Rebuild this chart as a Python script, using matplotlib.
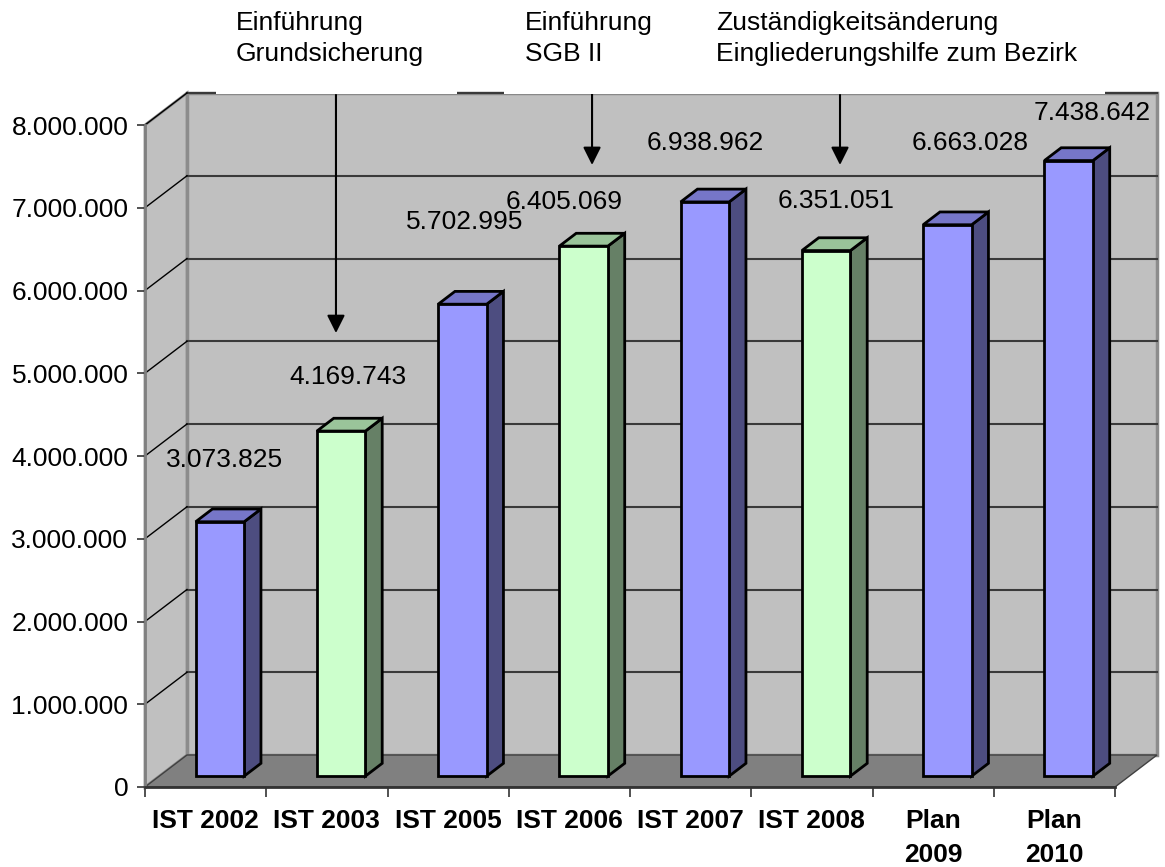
import matplotlib.pyplot as plt
from matplotlib.patches import Polygon, Rectangle
from matplotlib.ticker import FuncFormatter

plt.rcParams['font.family'] = ['Liberation Sans', 'DejaVu Sans']

# data
categories = ['IST 2002', 'IST 2003', 'IST 2005', 'IST 2006', 'IST 2007', 'IST 2008', 'Plan\n2009', 'Plan\n2010']
values = [3073825, 4169743, 5702995, 6405069, 6938962, 6351051, 6663028, 7438642]
kinds = ['blue', 'green', 'blue', 'green', 'blue', 'green', 'blue', 'blue']
yticks = [0, 1000000, 2000000, 3000000, 4000000, 5000000, 6000000, 7000000, 8000000]

# layout
label_off = [(5, 62), (7, 54), (2, 82), (-20, 44), (0, 59), (10, 50), (23, 82), (24, 48)]
notes = ['Einführung\nGrundsicherung', 'Einführung\nSGB II',
         'Zuständigkeitsänderung\nEingliederungshilfe zum Bezirk']
note_x = [236, 525, 716]
arrow_x = [1.575, 3.687, 5.732]
arrow_from = [8.363e6, 8.665e6, 8.363e6]
arrow_to = [5.486e6, 7.517e6, 7.517e6]

colors = {'blue': ('#9999FF', '#4D4D80', '#7676C8'),
          'green': ('#CCFFCC', '#668066', '#9AC49A')}

W, H = 1165, 867
fig = plt.figure(figsize=(W / 100, H / 100), dpi=100)
ax = fig.add_axes([145 / W, 80 / H, 970 / W, 662 / H])
n = len(categories)
ymax = 8000000
ax.set_xlim(0, n)
ax.set_ylim(0, ymax)
ax.set_facecolor('none')

# depth of the 3d box in data units
dx = 42 * n / 970
dy = 32 * ymax / 662

kw = dict(clip_on=False)
# back wall
ax.add_patch(Polygon([(dx, dy), (n + dx, dy), (n + dx, ymax + dy), (dx, ymax + dy)],
                     closed=True, facecolor='#C0C0C0', edgecolor='#8C8C8C', lw=2.5, zorder=1, **kw))
# side wall
ax.add_patch(Polygon([(0, 0), (dx, dy), (dx, ymax + dy), (0, ymax)],
                     closed=True, facecolor='#C0C0C0', edgecolor='#8C8C8C', lw=2, zorder=1, **kw))
for t in yticks[1:]:
    ax.plot([dx, n + dx], [t + dy, t + dy], color='#3A3A3A', lw=1.5, zorder=2, **kw)
    ax.plot([0, dx], [t, t + dy], color='black', lw=1, zorder=2, **kw)
# floor
ax.add_patch(Polygon([(0, 0), (n, 0), (n + dx, dy), (dx, dy)],
                     closed=True, facecolor='#808080', edgecolor='#404040', lw=1, zorder=2, **kw))

# bars
f0, f1 = 0.34, 0.74
for i, (v, k) in enumerate(zip(values, kinds)):
    front, side, top = colors[k]
    xl = i + 0.3
    xr = i + 0.7
    ax.add_patch(Polygon([(xr + f0 * dx, f0 * dy), (xr + f1 * dx, f1 * dy),
                          (xr + f1 * dx, v + f1 * dy), (xr + f0 * dx, v + f0 * dy)],
                         closed=True, facecolor=side, edgecolor='black', lw=2, zorder=3, **kw))
    ax.add_patch(Polygon([(xl + f0 * dx, v + f0 * dy), (xr + f0 * dx, v + f0 * dy),
                          (xr + f1 * dx, v + f1 * dy), (xl + f1 * dx, v + f1 * dy)],
                         closed=True, facecolor=top, edgecolor='black', lw=2, zorder=3, **kw))
    ax.add_patch(Rectangle((xl + f0 * dx, f0 * dy), xr - xl, v, facecolor=front,
                           edgecolor='black', lw=2, zorder=4, **kw))
    lx, ly = label_off[i]
    ax.annotate(f'{v:,}'.replace(',', '.'), xy=(i + 0.5 + f0 * dx, v + f0 * dy),
                xytext=(lx, ly), textcoords='offset pixels', ha='center', va='center',
                fontsize=19, zorder=6, annotation_clip=False)

# axes
for s in ['top', 'right']:
    ax.spines[s].set_visible(False)
ax.spines['left'].set_color('#808080')
ax.spines['left'].set_linewidth(2)
ax.spines['bottom'].set_color('#333333')
ax.spines['bottom'].set_linewidth(2)
ax.spines['left'].set_zorder(5)
ax.spines['bottom'].set_zorder(5)
ax.set_yticks(yticks)
ax.yaxis.set_major_formatter(FuncFormatter(lambda v, p: f'{int(v):,}'.replace(',', '.')))
ax.set_xticks(range(n + 1))
ax.set_xticklabels([])
ax.set_xticks([i + 0.5 for i in range(n)], minor=True)
ax.set_xticklabels(categories, minor=True, fontweight='bold', fontsize=19, linespacing=1.5)
ax.tick_params(axis='y', labelsize=19, length=6, width=1.2, color='#333333', pad=6)
ax.tick_params(axis='x', which='major', length=7, width=1.2, color='#333333')
ax.tick_params(axis='x', which='minor', length=0, pad=16)

# annotation boxes (hide wall top edge behind the texts)
for x0, x1 in [(216, 457), (504, 1105)]:
    fig.add_artist(Rectangle((x0 / W, 1 - 94 / H), (x1 - x0) / W, 94 / H,
                             transform=fig.transFigure, facecolor='white', edgecolor='none', zorder=5))
for txt, x in zip(notes, note_x):
    fig.text(x / W, 1 - 11 / H, txt, ha='left', va='top', fontsize=19, linespacing=1.38, zorder=7)
for x, y0, y1 in zip(arrow_x, arrow_from, arrow_to):
    ax.annotate('', xy=(x, y1), xytext=(x, y0), annotation_clip=False, zorder=6,
                arrowprops=dict(arrowstyle='-|>,head_length=0.4,head_width=0.2', color='black',
                                lw=1.5, mutation_scale=27, shrinkA=0, shrinkB=0))

fig.savefig('out.png', dpi=100)
